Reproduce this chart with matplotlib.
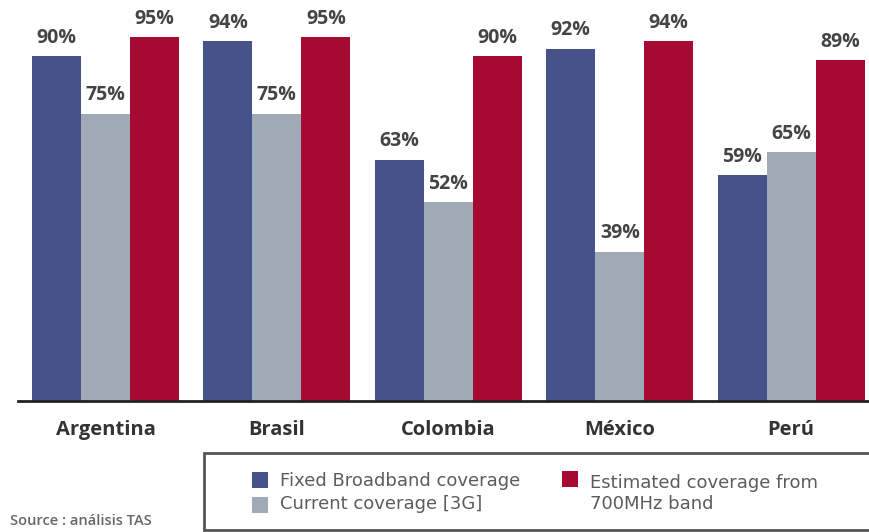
import matplotlib.pyplot as plt
from matplotlib.patches import Rectangle
import numpy as np

countries = ["Argentina", "Brasil", "Colombia", "México", "Perú"]
fixed_broadband = [90, 94, 63, 92, 59]
current_3g = [75, 75, 52, 39, 65]
estimated_700 = [95, 95, 90, 94, 89]

series_labels = ["Fixed Broadband coverage", "Current coverage [3G]",
                 "Estimated coverage from\n700MHz band"]
colors = ["#46528a", "#a0aab6", "#a60a33"]

W, H = 869, 532
fig = plt.figure(figsize=(W / 100, H / 100), dpi=100)
ax = fig.add_axes([18 / W, 1 - 401 / H, 1 - 18 / W, 401 / H])

x = np.arange(len(countries))
width = 0.286
for i, (vals, col) in enumerate(zip([fixed_broadband, current_3g, estimated_700], colors)):
    bars = ax.bar(x + (i - 1) * width, vals, width, color=col, linewidth=0)
    for b, v in zip(bars, vals):
        ax.annotate(f"{v}%", (b.get_x() + b.get_width() / 2, v),
                    xytext=(0, 6), textcoords="offset points",
                    ha="center", va="bottom", fontsize=14,
                    family="Open Sans", weight="bold", color="#444444")

ax.set_xlim(-0.5105, 4.454)
ax.set_ylim(0, 104.7)
ax.set_xticks(x)
ax.set_xticklabels(countries, fontsize=14.5, family="Open Sans",
                   weight="bold", color="#333333")
ax.tick_params(axis="x", length=0, pad=14)
ax.set_yticks([])
for s in ["top", "left", "right"]:
    ax.spines[s].set_visible(False)
ax.spines["bottom"].set_linewidth(2)
ax.spines["bottom"].set_color("#222222")

# legend box drawn in figure pixels
def fx(px):
    return px / W

def fy(py):
    return 1 - py / H

fig.patches.append(Rectangle((fx(204), fy(530)), fx(672), 77 / H,
                             transform=fig.transFigure, facecolor="white",
                             edgecolor="#555555", linewidth=2))
# (square x, square centre y, text baseline y)
legend_pos = [(252, 480, 486), (252, 505, 509), (562, 479, 509)]
for (px, py, base), lab, col in zip(legend_pos, series_labels, colors):
    fig.patches.append(Rectangle((fx(px), fy(py + 8)), 16 / W, 16 / H,
                                 transform=fig.transFigure, facecolor=col,
                                 edgecolor="none"))
    fig.text(fx(px + 28), fy(base), lab, fontsize=13, family="DejaVu Sans",
             color="#5c5c5c", va="baseline", linespacing=1.2)

fig.text(fx(10), fy(521), "Source : análisis TAS", fontsize=10.5,
         family="Open Sans", weight="semibold", color="#666666", va="center")

fig.savefig("out.png", dpi=100)
